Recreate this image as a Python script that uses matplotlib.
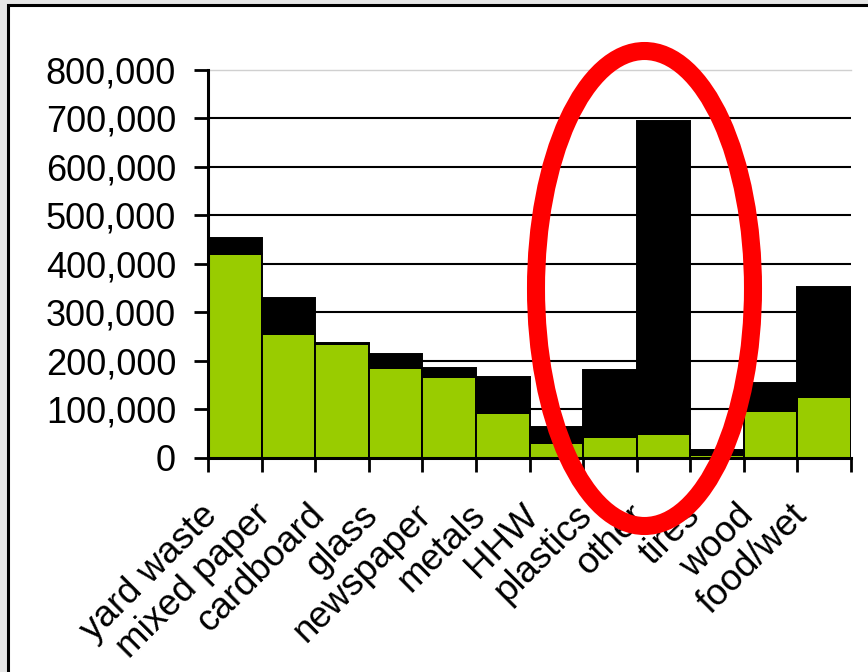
import matplotlib
matplotlib.use("Agg")
import matplotlib.pyplot as plt
from matplotlib.patches import Ellipse, Rectangle
from matplotlib.ticker import FuncFormatter
from matplotlib.transforms import ScaledTranslation
import numpy as np

plt.rcParams["font.family"] = ["Liberation Sans", "DejaVu Sans"]

# Tons by material: recovered (green) and disposed (black, stacked on top)
categories = ["yard waste", "mixed paper", "cardboard", "glass", "newspaper",
              "metals", "HHW", "plastics", "other", "tires", "wood", "food/wet"]
recovered = [421000, 255000, 234000, 184000, 167000, 91000,
             30000, 42000, 48000, 6000, 95000, 124000]
totals = [454000, 330000, 236000, 213000, 184000, 166000,
          64000, 181000, 694000, 15000, 153000, 353000]
disposed = [t - r for t, r in zip(totals, recovered)]

fig = plt.figure(figsize=(8.68, 6.72), dpi=100)
fig.patch.set_facecolor("#e6e6e6")

# white panel with black frame (runs off the right and bottom of the picture)
fig.patches.append(Rectangle((8 / 868, -0.1), 1.0, 1 - 5 / 672 + 0.1,
                             transform=fig.transFigure, facecolor="white",
                             edgecolor="black", linewidth=2.2, zorder=-1))

ax = fig.add_axes([208 / 868, 1 - 457.5 / 672, 643 / 868, (457.5 - 70) / 672])
ax.set_facecolor("none")

x = np.arange(len(categories))
ax.bar(x, recovered, width=1.0, align="edge", color="#99cc00",
       edgecolor="black", linewidth=1.4, zorder=3)
ax.bar(x, disposed, bottom=recovered, width=1.0, align="edge", color="black",
       edgecolor="black", linewidth=1.4, zorder=3)

ax.set_xlim(0, len(categories))
ax.set_ylim(0, 800000)
ax.set_yticks(np.arange(0, 800001, 100000))
ax.yaxis.set_major_formatter(FuncFormatter(lambda v, p: f"{int(v):,}"))

for yv in range(100000, 800000, 100000):
    ax.axhline(yv, color="black", linewidth=1.5, zorder=1)
ax.axhline(800000, color="#d0d0d0", linewidth=1.0, zorder=1, clip_on=False)

ax.set_xticks(np.arange(0, len(categories) + 1))
ax.set_xticklabels([])
ax.set_xticks(x + 0.5, minor=True)
ax.set_xticklabels(categories, minor=True, rotation=45, ha="right",
                   va="top", rotation_mode="anchor", fontsize=26.5)
ax.tick_params(axis="x", which="minor", length=0, pad=0)
ax.tick_params(axis="x", which="major", length=10, width=2, direction="out")
ax.tick_params(axis="y", length=10, width=2, direction="out", labelsize=26, pad=13)

# shift the slanted labels down and to the left of the bar centres
shift = ScaledTranslation(-35 / 100, -40 / 100, fig.dpi_scale_trans)
for lab in ax.get_xticklabels(minor=True):
    lab.set_transform(lab.get_transform() + shift)

for s in ["top", "right"]:
    ax.spines[s].set_visible(False)
for s in ["left", "bottom"]:
    ax.spines[s].set_linewidth(2.2)
    ax.spines[s].set_zorder(4)

# red highlight ellipse around "other" and "tires"
fig.patches.append(Ellipse((644.5 / 868, 1 - 288.5 / 672), 217 / 868, 475 / 672,
                           transform=fig.transFigure, fill=False,
                           edgecolor="#ff0000", linewidth=13, zorder=10))

fig.savefig("out.png", dpi=100)
